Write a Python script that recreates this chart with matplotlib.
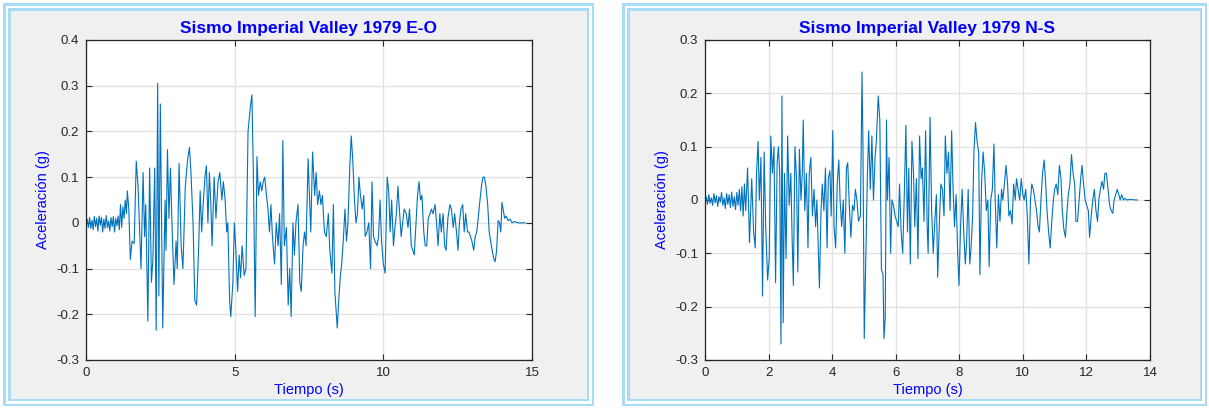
import matplotlib
matplotlib.use("Agg")
import matplotlib.pyplot as plt
from matplotlib.patches import Rectangle

# ---------------- data ----------------
title_eo = "Sismo Imperial Valley 1979 E-O"
title_ns = "Sismo Imperial Valley 1979 N-S"
xlabel_text = "Tiempo (s)"
ylabel_text = "Aceleración (g)"

eo_xticks = [0, 5, 10, 15]
eo_yticks = [-0.3, -0.2, -0.1, 0, 0.1, 0.2, 0.3, 0.4]
ns_xticks = [0, 2, 4, 6, 8, 10, 12, 14]
ns_yticks = [-0.3, -0.2, -0.1, 0, 0.1, 0.2, 0.3]

eo_t = [0.00, 0.04, 0.08, 0.12, 0.16, 0.20, 0.24, 0.28, 0.32, 0.36, 0.40, 0.44, 0.48,
        0.52, 0.56, 0.60, 0.64, 0.68, 0.72, 0.76, 0.80, 0.84, 0.88, 0.92, 0.96, 1.00,
        1.04, 1.08, 1.12, 1.16, 1.20, 1.24, 1.28, 1.32, 1.36, 1.39, 1.44, 1.49, 1.55,
        1.62, 1.69, 1.75, 1.85, 1.92, 1.97, 2.01, 2.08, 2.14, 2.20, 2.25, 2.31, 2.36,
        2.41, 2.45, 2.50, 2.58, 2.66, 2.69, 2.74, 2.79, 2.84, 2.90, 2.96, 3.03, 3.07,
        3.13, 3.20, 3.26, 3.34, 3.42, 3.48, 3.53, 3.60, 3.66, 3.72, 3.79, 3.84, 3.89,
        3.94, 4.00, 4.05, 4.10, 4.15, 4.20, 4.24, 4.31, 4.37, 4.44, 4.50, 4.57, 4.62,
        4.68, 4.73, 4.77, 4.83, 4.87, 4.94, 4.99, 5.04, 5.10, 5.15, 5.20, 5.25, 5.32,
        5.38, 5.45, 5.53, 5.58, 5.63, 5.69, 5.75, 5.80, 5.86, 5.91, 5.96, 6.01, 6.07,
        6.12, 6.17, 6.22, 6.27, 6.34, 6.40, 6.46, 6.51, 6.57, 6.62, 6.67, 6.74, 6.80,
        6.85, 6.90, 6.96, 7.01, 7.06, 7.13, 7.19, 7.24, 7.30, 7.35, 7.40, 7.47, 7.52,
        7.56, 7.62, 7.69, 7.74, 7.79, 7.85, 7.90, 7.95, 8.02, 8.08, 8.15, 8.20, 8.27,
        8.32, 8.37, 8.45, 8.50, 8.55, 8.60, 8.66, 8.71, 8.76, 8.81, 8.87, 8.92, 8.97,
        9.03, 9.08, 9.13, 9.18, 9.23, 9.29, 9.34, 9.39, 9.45, 9.51, 9.57, 9.62, 9.67,
        9.72, 9.79, 9.84, 9.89, 9.94, 10.00, 10.06, 10.13, 10.18, 10.23, 10.28, 10.34,
        10.39, 10.44, 10.49, 10.54, 10.60, 10.65, 10.70, 10.77, 10.83, 10.88, 10.94,
        10.99, 11.04, 11.10, 11.15, 11.20, 11.25, 11.30, 11.36, 11.41, 11.46, 11.51,
        11.57, 11.62, 11.67, 11.74, 11.79, 11.84, 11.90, 11.95, 12.01, 12.06, 12.11,
        12.17, 12.24, 12.29, 12.35, 12.40, 12.46, 12.51, 12.56, 12.61, 12.67, 12.72,
        12.77, 12.83, 12.88, 12.93, 12.98, 13.04, 13.09, 13.14, 13.19, 13.25, 13.30,
        13.35, 13.40, 13.45, 13.51, 13.56, 13.61, 13.66, 13.72, 13.76, 13.81, 13.86,
        13.91, 13.95, 13.99, 14.03, 14.08, 14.13, 14.19, 14.26, 14.33, 14.40, 14.53,
        14.77]
eo_a = [0.000, 0.008, -0.010, 0.012, -0.012, 0.006, -0.015, 0.014, -0.008, 0.010,
        -0.018, 0.015, -0.005, 0.012, -0.020, 0.008, -0.012, 0.016, -0.010, 0.004,
        -0.018, 0.012, -0.008, 0.014, -0.020, 0.010, -0.006, 0.015, -0.015, 0.040,
        -0.010, 0.035, 0.010, 0.050, 0.020, 0.070, 0.030, -0.080, -0.040, -0.045,
        0.135, 0.080, -0.100, 0.110, -0.030, 0.040, -0.215, 0.120, -0.130, -0.080,
        0.120, -0.235, 0.305, -0.160, 0.260, -0.230, 0.050, -0.060, 0.160, 0.010,
        0.120, -0.020, -0.135, -0.040, -0.100, 0.130, -0.050, -0.100, 0.080, 0.140,
        0.165, 0.110, 0.000, -0.170, -0.180, -0.050, 0.070, -0.020, 0.040, 0.100,
        0.125, 0.000, 0.110, 0.040, -0.050, 0.100, 0.010, 0.090, 0.110, 0.050, 0.090,
        0.050, -0.020, 0.000, -0.170, -0.205, -0.130, 0.000, -0.060, -0.150, -0.070,
        -0.120, -0.050, -0.115, -0.100, 0.200, 0.255, 0.280, 0.100, -0.205, 0.145,
        0.060, 0.090, 0.070, 0.090, 0.100, 0.060, 0.030, -0.020, 0.040, -0.030,
        -0.090, 0.000, -0.050, 0.020, -0.135, 0.180, -0.050, -0.010, -0.180, -0.100,
        -0.205, 0.000, -0.070, 0.000, 0.040, -0.130, -0.150, -0.050, -0.020, -0.050,
        0.140, 0.050, -0.020, 0.155, 0.060, 0.110, 0.040, 0.070, 0.040, 0.060,
        -0.020, -0.030, 0.020, -0.060, -0.110, 0.040, -0.150, -0.230, -0.170, -0.120,
        -0.090, -0.030, 0.030, -0.040, 0.000, 0.120, 0.190, 0.140, 0.050, 0.000,
        0.020, 0.100, 0.060, 0.030, 0.060, -0.030, -0.020, 0.000, -0.100, 0.090,
        -0.030, -0.040, -0.050, -0.030, 0.050, -0.040, -0.090, -0.110, 0.100, 0.070,
        -0.020, 0.050, -0.050, -0.010, 0.020, 0.080, 0.030, -0.030, 0.000, 0.030,
        0.020, -0.010, 0.030, -0.050, -0.060, -0.070, 0.000, 0.060, 0.090, 0.050,
        0.060, -0.020, -0.050, -0.050, 0.010, 0.020, 0.030, 0.020, 0.040, 0.000,
        -0.050, 0.020, -0.020, 0.020, -0.050, -0.060, 0.010, 0.040, 0.030, -0.010,
        0.020, -0.020, -0.060, 0.000, 0.030, 0.040, -0.020, 0.020, -0.020, -0.020,
        -0.030, -0.040, -0.060, -0.030, -0.020, 0.010, 0.050, 0.080, 0.100, 0.100,
        0.080, 0.040, -0.020, -0.040, -0.060, -0.080, -0.085, -0.060, 0.005, 0.000,
        -0.020, 0.045, 0.030, 0.010, 0.015, 0.005, 0.008, 0.000, 0.003, 0.000, 0.000]

ns_t = [0.00, 0.04, 0.08, 0.12, 0.16, 0.20, 0.24, 0.28, 0.32, 0.36, 0.40, 0.44, 0.48,
        0.52, 0.56, 0.60, 0.64, 0.68, 0.72, 0.76, 0.80, 0.84, 0.88, 0.92, 0.96, 1.00,
        1.04, 1.08, 1.12, 1.16, 1.20, 1.24, 1.28, 1.34, 1.40, 1.47, 1.53, 1.58, 1.62,
        1.67, 1.71, 1.76, 1.81, 1.86, 1.91, 1.97, 2.02, 2.07, 2.12, 2.17, 2.22, 2.27,
        2.31, 2.35, 2.39, 2.42, 2.46, 2.50, 2.55, 2.60, 2.65, 2.70, 2.74, 2.78, 2.83,
        2.88, 2.92, 2.97, 3.02, 3.06, 3.09, 3.14, 3.19, 3.24, 3.28, 3.33, 3.38, 3.43,
        3.48, 3.52, 3.57, 3.60, 3.65, 3.69, 3.74, 3.79, 3.84, 3.88, 3.93, 3.97, 4.02,
        4.06, 4.11, 4.16, 4.21, 4.25, 4.30, 4.35, 4.40, 4.45, 4.49, 4.54, 4.59, 4.64,
        4.69, 4.73, 4.78, 4.83, 4.89, 4.94, 4.97, 5.01, 5.06, 5.11, 5.15, 5.20, 5.25,
        5.30, 5.35, 5.39, 5.45, 5.50, 5.55, 5.60, 5.63, 5.67, 5.71, 5.74, 5.79, 5.84,
        5.88, 5.93, 5.98, 6.03, 6.08, 6.12, 6.17, 6.22, 6.27, 6.32, 6.37, 6.41, 6.46,
        6.51, 6.56, 6.60, 6.65, 6.70, 6.75, 6.80, 6.84, 6.89, 6.94, 6.99, 7.02, 7.08,
        7.13, 7.18, 7.23, 7.28, 7.32, 7.37, 7.42, 7.47, 7.52, 7.56, 7.61, 7.66, 7.71,
        7.76, 7.80, 7.85, 7.90, 7.95, 7.99, 8.04, 8.09, 8.14, 8.19, 8.23, 8.28, 8.33,
        8.37, 8.42, 8.46, 8.51, 8.56, 8.61, 8.65, 8.70, 8.75, 8.80, 8.85, 8.90, 8.94,
        8.99, 9.04, 9.09, 9.13, 9.18, 9.23, 9.28, 9.33, 9.37, 9.42, 9.47, 9.52, 9.56,
        9.61, 9.66, 9.71, 9.76, 9.80, 9.85, 9.90, 9.95, 10.00, 10.04, 10.09, 10.14,
        10.19, 10.24, 10.28, 10.33, 10.38, 10.43, 10.48, 10.52, 10.57, 10.62, 10.67,
        10.71, 10.76, 10.81, 10.86, 10.91, 10.96, 11.00, 11.05, 11.10, 11.15, 11.20,
        11.24, 11.29, 11.34, 11.39, 11.43, 11.48, 11.53, 11.58, 11.63, 11.67, 11.72,
        11.77, 11.82, 11.86, 11.91, 11.96, 12.01, 12.06, 12.10, 12.15, 12.20, 12.25,
        12.30, 12.35, 12.39, 12.44, 12.49, 12.54, 12.58, 12.63, 12.68, 12.73, 12.78,
        12.83, 12.87, 12.92, 12.97, 13.02, 13.06, 13.11, 13.16, 13.21, 13.27, 13.36,
        13.60]
ns_a = [0.000, 0.006, -0.008, 0.010, -0.006, 0.004, -0.010, 0.012, -0.005, 0.008,
        -0.012, 0.006, -0.004, 0.014, -0.010, 0.004, -0.016, 0.012, -0.008, 0.010,
        -0.014, 0.015, -0.012, 0.006, -0.018, 0.014, -0.010, 0.020, -0.020, 0.025,
        -0.030, 0.030, -0.020, 0.060, -0.080, 0.040, -0.060, -0.090, 0.050, 0.110,
        0.000, 0.080, -0.180, 0.090, -0.050, -0.150, -0.110, 0.120, 0.050, 0.100,
        -0.155, 0.070, 0.100, 0.050, -0.270, 0.195, -0.230, 0.050, -0.110, 0.120,
        -0.010, 0.050, -0.070, -0.160, 0.100, 0.040, -0.135, 0.095, 0.000, 0.050,
        0.150, -0.020, 0.050, -0.090, 0.050, 0.080, -0.030, 0.020, -0.050, 0.000,
        -0.105, -0.165, -0.020, 0.030, -0.020, 0.060, -0.090, 0.040, 0.055, -0.030,
        0.130, -0.050, -0.090, 0.030, 0.075, 0.000, -0.050, 0.000, -0.100, 0.060,
        0.070, -0.010, -0.070, -0.010, -0.020, 0.020, 0.000, -0.040, -0.030, 0.240,
        0.100, -0.260, -0.100, 0.050, 0.130, 0.020, 0.120, 0.000, 0.080, 0.110,
        0.195, 0.150, -0.130, -0.140, -0.260, -0.220, 0.150, 0.000, 0.080, -0.100,
        0.000, -0.010, -0.030, -0.040, -0.050, 0.030, -0.060, -0.100, 0.010, 0.140,
        -0.060, 0.060, -0.120, 0.110, 0.050, -0.050, 0.040, -0.110, 0.120, 0.040,
        0.060, -0.040, 0.130, -0.050, -0.100, 0.155, -0.020, -0.100, -0.040, 0.010,
        -0.145, -0.050, 0.030, 0.020, -0.030, 0.120, 0.050, 0.090, -0.020, 0.130,
        0.030, -0.050, 0.010, -0.100, -0.160, -0.050, 0.020, -0.060, -0.120, -0.080,
        0.020, -0.120, -0.090, -0.030, 0.090, 0.145, 0.110, 0.090, -0.140, 0.030,
        0.090, 0.050, -0.020, 0.000, -0.125, 0.000, 0.020, 0.105, 0.000, -0.090,
        0.010, -0.040, 0.020, 0.000, 0.030, 0.065, 0.030, -0.030, -0.020, -0.045,
        0.030, 0.000, 0.040, 0.020, 0.000, 0.040, 0.010, 0.000, 0.020, -0.030,
        -0.120, 0.000, 0.030, 0.020, 0.000, -0.020, -0.050, -0.060, 0.000, 0.050,
        0.075, 0.040, -0.020, -0.060, -0.090, -0.040, 0.000, 0.020, 0.030, 0.010,
        0.065, 0.040, -0.020, -0.055, -0.070, -0.020, 0.010, 0.030, 0.085, 0.050,
        0.030, -0.040, -0.040, 0.000, 0.040, 0.065, 0.030, 0.000, -0.010, -0.020,
        -0.070, -0.030, 0.000, 0.020, -0.020, -0.040, 0.000, 0.020, 0.035, 0.020,
        0.050, 0.050, 0.020, -0.010, -0.020, -0.025, 0.000, 0.010, 0.020, 0.010,
        0.000, 0.010, 0.000, 0.003, 0.000, 0.001, 0.000]

# ---------------- style ----------------
FONT = ["Liberation Sans", "DejaVu Sans"]
plt.rcParams["font.family"] = FONT
LINE_COLOR = "#0072BD"
BORDER = "#a8dbf5"
PANEL = "#f0f0f0"
TXT = "#262626"
W, H = 1209, 408

fig = plt.figure(figsize=(W / 100, H / 100), dpi=100, facecolor="white")


def px_rect(x0, y0, x1, y1, color):
    # pixel coordinates with origin at top-left
    fig.patches.append(Rectangle((x0 / W, 1 - y1 / H), (x1 - x0) / W, (y1 - y0) / H,
                                 transform=fig.transFigure, facecolor=color,
                                 edgecolor="none", zorder=-10))


def panel(x0, y0, x1, y1):
    px_rect(x0, y0, x1, y1, BORDER)
    px_rect(x0 + 2.5, y0 + 2.5, x1 - 2.5, y1 - 2.5, "white")
    px_rect(x0 + 5, y0 + 5, x1 - 5, y1 - 5, BORDER)
    px_rect(x0 + 7.5, y0 + 7.5, x1 - 7.5, y1 - 7.5, PANEL)


panel(3, 3, 594, 406)
panel(622, 3, 1207, 406)


def make_axes(left, right, t, a, title, xticks, yticks):
    ax = fig.add_axes([left / W, 1 - 360 / H, (right - left) / W, 320 / H])
    ax.set_facecolor("white")
    ax.plot(t, a, color=LINE_COLOR, lw=0.8)
    ax.set_xlim(xticks[0], xticks[-1])
    ax.set_ylim(yticks[0], yticks[-1])
    ax.set_xticks(xticks)
    ax.set_yticks(yticks)
    ax.set_xticklabels([f"{v:g}" for v in xticks])
    ax.set_yticklabels([f"{v:g}" for v in yticks])
    ax.grid(True, color="#e3e3e3", lw=1.0)
    ax.set_axisbelow(True)
    ax.tick_params(direction="in", length=4, width=0.8, colors=TXT, labelsize=9.5,
                   top=True, right=True, pad=5)
    for s in ax.spines.values():
        s.set_color(TXT)
        s.set_linewidth(0.9)
    ax.set_title(title, color="#0000ff", fontsize=12.5, fontweight="bold", pad=5)
    ax.set_xlabel(xlabel_text, color="#0000ff", fontsize=10.5, labelpad=3)
    ax.set_ylabel(ylabel_text, color="#0000ff", fontsize=10.5, labelpad=4)
    return ax


make_axes(86, 532, eo_t, eo_a, title_eo, eo_xticks, eo_yticks)
make_axes(705, 1150, ns_t, ns_a, title_ns, ns_xticks, ns_yticks)

fig.savefig("out.png", dpi=100, facecolor="white")
